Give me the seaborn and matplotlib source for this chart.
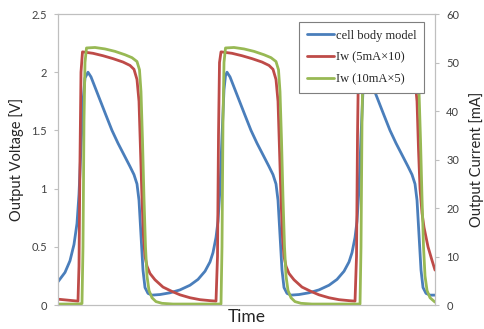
import matplotlib
matplotlib.use('Agg')
import matplotlib.pyplot as plt
import seaborn as sns

sns.set_style('white')
plt.rcParams['font.family'] = ['Lato', 'DejaVu Sans']

# cell body model: output voltage [V]
t_cell = [0, 7, 12, 16, 19, 21, 23, 25, 27, 30, 33, 38, 43, 48, 54, 60, 66, 72, 76, 79,
          81, 83, 85, 87, 90, 94, 102, 112, 122, 132, 140, 147, 152, 155, 158, 160, 162,
          164, 166, 167.5, 169, 172, 177, 182, 187, 193, 199, 205, 211, 215, 218, 220,
          222, 224, 226, 229, 233, 241, 251, 261, 271, 279, 286, 291, 294, 297, 299, 301,
          303, 305, 306.5, 308, 311, 316, 321, 326, 332, 338, 344, 350, 354, 357, 359,
          361, 363, 365, 368, 372, 377]
v_cell = [0.20, 0.28, 0.38, 0.52, 0.70, 0.95, 1.35, 1.75, 1.95, 2.00, 1.96, 1.85, 1.74,
          1.63, 1.50, 1.39, 1.29, 1.19, 1.12, 1.04, 0.90, 0.60, 0.30, 0.15, 0.10, 0.085,
          0.09, 0.105, 0.13, 0.17, 0.22, 0.29, 0.37, 0.45, 0.58, 0.72, 1.00, 1.45, 1.85,
          1.97, 2.00, 1.96, 1.85, 1.74, 1.63, 1.50, 1.39, 1.29, 1.19, 1.12, 1.04, 0.90,
          0.60, 0.30, 0.15, 0.10, 0.085, 0.09, 0.105, 0.13, 0.17, 0.22, 0.29, 0.37, 0.45,
          0.58, 0.72, 1.00, 1.45, 1.85, 1.97, 2.00, 1.96, 1.85, 1.74, 1.63, 1.50, 1.39,
          1.29, 1.19, 1.12, 1.04, 0.90, 0.60, 0.30, 0.15, 0.10, 0.085, 0.085]

# Iw (5mA x 10): output current [mA]
t_iw5 = [0, 10, 20, 21, 22, 23, 24.5, 35, 45, 55, 65, 72, 76, 79, 81, 82.5, 84, 85.5, 87,
         89, 92, 97, 105, 114, 122, 132, 142, 152, 158, 159.5, 160.5, 161.5, 163, 174,
         184, 194, 204, 211, 215, 218, 220, 221.5, 223, 224.5, 226, 228, 231, 236, 244,
         253, 261, 271, 281, 291, 297, 298.5, 299.5, 300.5, 302, 313, 323, 333, 343, 350,
         354, 357, 359, 360.5, 362, 364, 366, 370, 374, 377]
i_iw5 = [1.2, 1.0, 0.8, 8, 30, 48, 52.2, 51.9, 51.4, 50.8, 50.1, 49.4, 48.6, 46.5, 42, 32,
         22, 14, 10, 8, 6.5, 5.2, 3.7, 2.8, 2.1, 1.5, 1.1, 0.9, 0.8, 10, 35, 50, 52.2,
         51.9, 51.4, 50.8, 50.1, 49.4, 48.6, 46.5, 42, 32, 22, 14, 10, 8, 6.5, 5.2, 3.7,
         2.8, 2.1, 1.5, 1.1, 0.9, 0.8, 10, 35, 50, 52.2, 51.9, 51.4, 50.8, 50.1, 49.4,
         48.6, 46.5, 42, 32, 24, 19, 16, 12, 9.2, 7.2]

# Iw (10mA x 5): output current [mA]
t_iw10 = [0, 20, 24, 25, 26, 27, 28.5, 37, 47, 57, 67, 74, 79, 81.5, 83, 84.5, 86, 87.5,
          89, 91, 94, 98, 104, 115, 163, 164, 165, 166, 167.5, 176, 186, 196, 206, 213,
          218, 220.5, 222, 223.5, 225, 226.5, 228, 230, 233, 237, 243, 254, 302, 303, 304,
          305, 306.5, 315, 325, 335, 345, 352, 357, 359.5, 361, 362.5, 364, 365.5, 367,
          369, 372, 377]
i_iw10 = [0.2, 0.2, 0.3, 12, 38, 50, 53, 53.1, 52.8, 52.3, 51.6, 51.0, 50.2, 48.5, 44, 34,
          22, 12, 6, 3, 1.5, 0.7, 0.35, 0.2, 0.2, 12, 38, 50, 53, 53.1, 52.8, 52.3, 51.6,
          51.0, 50.2, 48.5, 44, 34, 22, 12, 6, 3, 1.5, 0.7, 0.35, 0.2, 0.2, 12, 38, 50, 53,
          53.1, 52.8, 52.3, 51.6, 51.0, 50.2, 48.5, 44, 34, 22, 12, 6, 3, 1.5, 0.6]

v_ticks = [0, 0.5, 1, 1.5, 2, 2.5]
v_labels = ['0', '0.5', '1', '1.5', '2', '2.5']
i_ticks = [0, 10, 20, 30, 40, 50, 60]

blue, red, green = '#4A7EBB', '#BE4B48', '#98B954'
grey = '#BFBFBF'

fig, ax = plt.subplots(figsize=(4.84, 3.29), dpi=100)
fig.subplots_adjust(left=0.1198, right=0.8988, top=0.9574, bottom=0.0729)
ax2 = ax.twinx()

sns.lineplot(x=t_cell, y=v_cell, ax=ax, color=blue, linewidth=2, estimator=None,
             label='cell body model')
sns.lineplot(x=t_iw5, y=i_iw5, ax=ax2, color=red, linewidth=2, estimator=None,
             label='Iw (5mA\u00d710)')
sns.lineplot(x=t_iw10, y=i_iw10, ax=ax2, color=green, linewidth=2, estimator=None,
             label='Iw (10mA\u00d75)')

ax.set_xlim(0, 377)
ax.set_ylim(0, 2.5)
ax2.set_ylim(0, 60)
ax.set_xticks([])
ax.set_yticks(v_ticks)
ax.set_yticklabels(v_labels)
ax2.set_yticks(i_ticks)

for a in (ax, ax2):
    for s in a.spines.values():
        s.set_color(grey)
        s.set_linewidth(0.8)
    a.tick_params(axis='y', colors=grey, labelcolor='#404040', labelsize=8,
                  length=3, width=0.8, pad=5)

ax.set_xlabel('Time', fontsize=12.5, labelpad=3)
ax.set_ylabel('Output Voltage [V]', fontsize=10.5, labelpad=5)
ax2.set_ylabel('Output Current [mA]', fontsize=10.5, labelpad=7)

h1, l1 = ax.get_legend_handles_labels()
h2, l2 = ax2.get_legend_handles_labels()
ax.get_legend().remove()
leg = ax2.legend(h1 + h2, l1 + l2, loc='upper right', bbox_to_anchor=(0.971, 0.9725),
                 borderaxespad=0, frameon=True, fancybox=False, framealpha=1,
                 edgecolor='#7F7F7F', handlelength=2.2, handletextpad=0.15,
                 labelspacing=0.8, borderpad=0.6,
                 prop={'family': 'Liberation Serif', 'size': 9})
leg.get_frame().set_linewidth(0.8)

fig.savefig('out.png', dpi=100)
